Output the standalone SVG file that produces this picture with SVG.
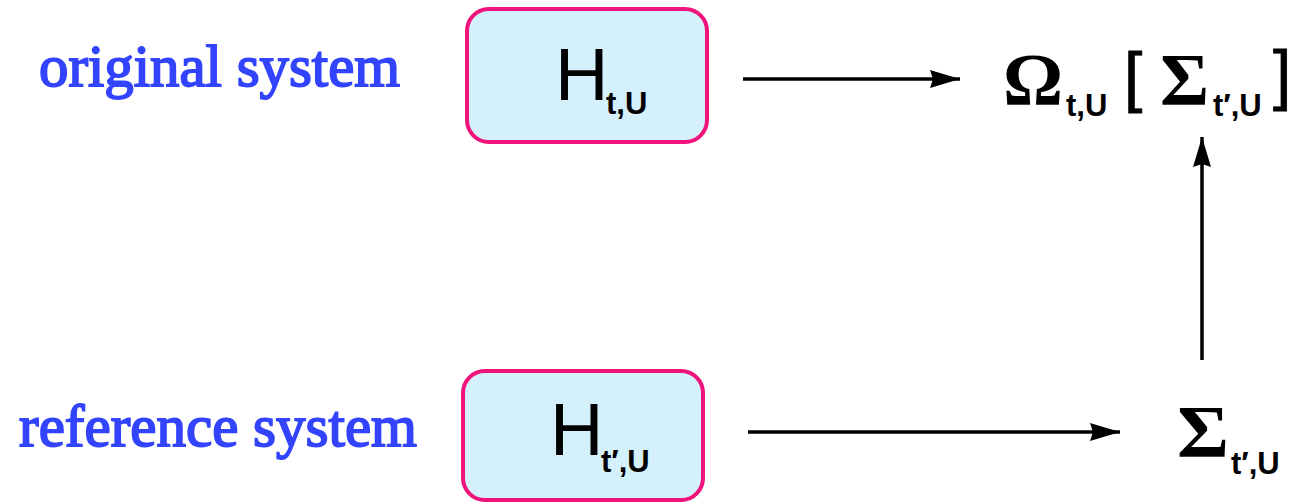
<svg xmlns="http://www.w3.org/2000/svg" width="1310" height="502" viewBox="0 0 1310 502">
<defs>
<style>
.lbl{font-family:"Liberation Serif","Times New Roman",serif;font-size:59px;fill:#3344ff;stroke:#3344ff;stroke-width:1.8}
.box{fill:#d4f1fb;stroke:#f0137b;stroke-width:4}
.big{font-family:"Liberation Sans",Arial,sans-serif;font-size:74px;fill:#000}
.sub{font-family:"Liberation Sans",Arial,sans-serif;font-weight:bold;font-size:31px;fill:#000}
.gr{font-family:"Liberation Serif","Times New Roman",serif;font-weight:bold;font-size:75px;fill:#000}
.br{font-family:"Liberation Sans",Arial,sans-serif;font-size:66px;fill:#000;stroke:#000;stroke-width:0.8}
.ln{stroke:#000;stroke-width:3.5;fill:none}
</style>
<marker id="ah" viewBox="0 0 30 18" refX="30" refY="9" markerWidth="30" markerHeight="18" markerUnits="userSpaceOnUse" orient="auto">
<path d="M0,0 L30,9 L0,18 L3,9 Z" fill="#000"/>
</marker>
</defs>
<g id="label-original"><text class="lbl" x="39" y="86" textLength="361" lengthAdjust="spacingAndGlyphs">original system</text></g>
<g id="label-reference"><text class="lbl" x="19" y="446" textLength="398" lengthAdjust="spacingAndGlyphs">reference system</text></g>
<g id="node-H-original">
<rect class="box" x="467" y="9" width="240" height="133" rx="22"/>
<text class="big" x="555" y="100">H</text>
<text class="sub" x="606" y="114">t,U</text>
</g>
<g id="node-H-reference">
<rect class="box" x="463" y="371" width="240" height="129" rx="22"/>
<text class="big" x="550" y="455">H</text>
<text class="sub" x="601" y="472">t′,U</text>
</g>
<g id="node-omega">
<text class="gr" x="1003" y="105">Ω</text>
<text class="sub" x="1066" y="116">t,U</text>
<text class="br" x="1124" y="99">[</text>
<text class="gr" x="1160" y="105">Σ</text>
<text class="sub" x="1213" y="116">t′,U</text>
<text class="br" x="1273" y="97">]</text>
</g>
<g id="node-sigma">
<text class="gr" x="1177" y="457" textLength="52" lengthAdjust="spacingAndGlyphs">Σ</text>
<text class="sub" x="1231" y="474">t′,U</text>
</g>
<g id="connectors">
<line class="ln" x1="743" y1="79" x2="960" y2="79" marker-end="url(#ah)"/>
<line class="ln" x1="748" y1="432" x2="1120" y2="432" marker-end="url(#ah)"/>
<line class="ln" x1="1202" y1="360" x2="1202" y2="137" marker-end="url(#ah)"/>
</g>
</svg>
